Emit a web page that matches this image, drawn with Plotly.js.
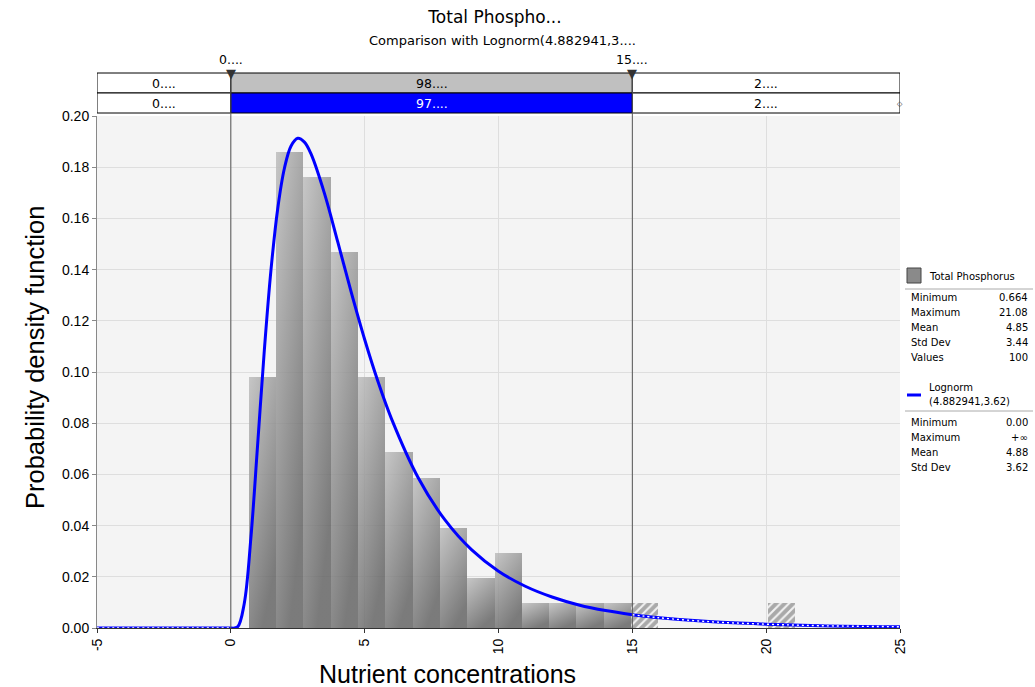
<!DOCTYPE html>
<html>
<head>
<meta charset="utf-8">
<script src="https://cdn.plot.ly/plotly-3.0.1.min.js"></script>
<style>html,body{margin:0;padding:0;background:#fff;}#chart{width:1035px;height:687px;}</style>
</head>
<body>
<div id="chart"></div>
<script>
// ---------------- data ----------------
const binCounts = [10, 19, 18, 15, 10, 7, 6, 4, 2, 3, 1, 1, 1, 1, 1, 0, 0, 0, 0, 1];
const sampleMin = 0.664;
const sampleMax = 21.08;
const sampleN = 100;

// fitted Lognorm(4.882941, 3.62) curve
const curveX = [-5, -2.5, 0, 0.25, 0.5, 0.75, 1, 1.25, 1.5, 1.75, 2, 2.25, 2.5, 2.75, 3, 3.5, 4, 4.5, 5, 5.5, 6, 7, 8, 9, 10, 11, 12, 13, 14, 15, 16, 18, 20, 22, 25];
const curveY = [0, 0, 0, 0.0004, 0.0095, 0.0353, 0.0714, 0.1083, 0.1399, 0.1637, 0.1795, 0.1883, 0.1913, 0.1898, 0.1851, 0.1697, 0.1506, 0.1311, 0.1127, 0.0962, 0.0818, 0.0587, 0.0422, 0.0305, 0.0222, 0.0163, 0.0121, 0.0090, 0.0068, 0.0052, 0.0040, 0.0024, 0.0015, 0.0009, 0.0005];

const windowLo = 0, windowHi = 15;
const markerLabels = ['0....', '15....'];
const row1Labels = ['0....', '98....', '2....'];
const row2Labels = ['0....', '97....', '2....'];

const titleText = 'Total Phospho...';
const subtitleText = 'Comparison with Lognorm(4.882941,3....';
const xTitle = 'Nutrient concentrations';
const yTitle = 'Probability density function';

const series1Name = 'Total Phosphorus';
const stats1Labels = ['Minimum', 'Maximum', 'Mean', 'Std Dev', 'Values'];
const stats1Values = ['0.664', '21.08', '4.85', '3.44', '100'];
const series2Name = ['Lognorm', '(4.882941,3.62)'];
const stats2Labels = ['Minimum', 'Maximum', 'Mean', 'Std Dev'];
const stats2Values = ['0.00', '+∞', '4.88', '3.62'];

// ---------------- derived ----------------
const binWidth = (sampleMax - sampleMin) / binCounts.length;
const solidX = [], solidY = [], hatchX = [], hatchY = [];
binCounts.forEach((c, i) => {
  const left = sampleMin + i * binWidth;
  const centre = left + binWidth / 2;
  const dens = c / (sampleN * binWidth);
  if (centre <= windowHi && centre >= windowLo) { solidX.push(left); solidY.push(dens); }
  else { hatchX.push(left); hatchY.push(dens); }
});

const inX = [], inY = [], leftX = [], leftY = [], rightX = [], rightY = [];
curveX.forEach((x, i) => {
  if (x >= windowLo && x <= windowHi) { inX.push(x); inY.push(curveY[i]); }
  if (x <= windowLo) { leftX.push(x); leftY.push(curveY[i]); }
  if (x >= windowHi) { rightX.push(x); rightY.push(curveY[i]); }
});

// ---------------- layout helpers ----------------
const L = 97, R = 900, T = 116, B = 628;
const PX = p => (p - L) / (R - L);
const PY = p => (B - p) / (B - T);
const FONT = 'Liberation Sans, Arial, sans-serif';
const SFONT = 'DejaVu Sans, Verdana, sans-serif';

const traces = [
  {type: 'bar', x: solidX, y: solidY, width: binWidth, offset: 0,
   marker: {color: '#8f8f8f', opacity: 0.9, line: {width: 0}}, hoverinfo: 'skip', showlegend: false},
  {type: 'bar', x: hatchX, y: hatchY, width: binWidth, offset: 0,
   marker: {color: '#a9a9a9', line: {width: 0}, pattern: {shape: '/', fgcolor: '#f2f2f2', bgcolor: '#a9a9a9', size: 6, solidity: 0.35}},
   hoverinfo: 'skip', showlegend: false},
  {type: 'scatter', mode: 'lines', x: inX, y: inY, line: {color: '#0000ff', width: 3, shape: 'spline'}, hoverinfo: 'skip', showlegend: false},
  {type: 'scatter', mode: 'lines', x: leftX, y: leftY, line: {color: '#0000ff', width: 3, shape: 'spline'}, hoverinfo: 'skip', showlegend: false},
  {type: 'scatter', mode: 'lines', x: rightX, y: rightY, line: {color: '#0000ff', width: 3, shape: 'spline'}, hoverinfo: 'skip', showlegend: false},
  {type: 'scatter', mode: 'lines', x: leftX, y: leftY, line: {color: '#ffffff', width: 1.4, dash: '2px,3px', shape: 'spline'}, hoverinfo: 'skip', showlegend: false},
  {type: 'scatter', mode: 'lines', x: rightX, y: rightY, line: {color: '#ffffff', width: 1.4, dash: '2px,3px', shape: 'spline'}, hoverinfo: 'skip', showlegend: false}
];

const shapes = [];
const annotations = [];

// header rows
const cellEdges = [-5, windowLo, windowHi, 25];
const row1Fill = ['#ffffff', '#c0c0c0', '#ffffff'];
const row2Fill = ['#ffffff', '#0000ff', '#ffffff'];
const row2Font = ['#000000', '#ffffff', '#000000'];
for (let i = 0; i < 3; i++) {
  shapes.push({type: 'rect', xref: 'x', yref: 'paper', x0: cellEdges[i], x1: cellEdges[i + 1], y0: PY(93), y1: PY(73),
    fillcolor: row1Fill[i], line: {color: '#000', width: 1}, layer: 'above'});
  shapes.push({type: 'rect', xref: 'x', yref: 'paper', x0: cellEdges[i], x1: cellEdges[i + 1], y0: PY(113), y1: PY(93),
    fillcolor: row2Fill[i], line: {color: '#000', width: 1}, layer: 'above'});
  const cx = (cellEdges[i] + cellEdges[i + 1]) / 2;
  annotations.push({xref: 'x', yref: 'paper', x: cx, y: PY(83), text: row1Labels[i], showarrow: false,
    font: {family: SFONT, size: 12.5, color: '#000'}, xanchor: 'center', yanchor: 'middle'});
  annotations.push({xref: 'x', yref: 'paper', x: cx, y: PY(103), text: row2Labels[i], showarrow: false,
    font: {family: SFONT, size: 12.5, color: row2Font[i]}, xanchor: 'center', yanchor: 'middle'});
}
// small end marker on second row
annotations.push({xref: 'paper', yref: 'paper', x: 1, y: PY(103), text: '◇', showarrow: false,
  font: {size: 7, color: '#333'}, xanchor: 'center', yanchor: 'middle'});
// window markers
[windowLo, windowHi].forEach((v, i) => {
  shapes.push({type: 'line', xref: 'x', yref: 'paper', x0: v, x1: v, y0: 0, y1: PY(73), line: {color: '#555', width: 1}, layer: 'above'});
  annotations.push({xref: 'x', yref: 'paper', x: v, y: PY(73), text: '▼', showarrow: false,
    font: {family: 'DejaVu Sans', size: 13, color: '#333'}, xanchor: 'center', yanchor: 'middle'});
  annotations.push({xref: 'x', yref: 'paper', x: v, y: PY(59), text: markerLabels[i], showarrow: false,
    font: {family: SFONT, size: 12.5, color: '#000'}, xanchor: 'center', yanchor: 'middle'});
});
// subtitle
annotations.push({xref: 'paper', yref: 'paper', x: PX(502), y: PY(40), text: subtitleText, showarrow: false,
  font: {family: SFONT, size: 13, color: '#000'}, xanchor: 'center', yanchor: 'middle'});
// axis titles
annotations.push({xref: 'paper', yref: 'paper', x: PX(447), y: PY(674), text: xTitle, showarrow: false,
  font: {family: FONT, size: 25, color: '#000'}, xanchor: 'center', yanchor: 'middle'});
annotations.push({xref: 'paper', yref: 'paper', x: PX(35), y: PY(358), text: yTitle, showarrow: false, textangle: -90,
  font: {family: FONT, size: 25.5, color: '#000'}, xanchor: 'center', yanchor: 'middle'});

// side legend
shapes.push({type: 'rect', xref: 'paper', yref: 'paper', x0: PX(907), x1: PX(921), y0: PY(283), y1: PY(268),
  fillcolor: '#8a8a8a', line: {color: '#444', width: 1}});
annotations.push({xref: 'paper', yref: 'paper', x: PX(927), y: PY(276), text: series1Name, showarrow: false,
  font: {family: SFONT, size: 10, color: '#000'}, xanchor: 'left', yanchor: 'middle'});
shapes.push({type: 'line', xref: 'paper', yref: 'paper', x0: PX(905), x1: PX(1033), y0: PY(289), y1: PY(289), line: {color: '#aaa', width: 1}});
stats1Labels.forEach((s, i) => {
  const y = PY(297 + i * 15);
  annotations.push({xref: 'paper', yref: 'paper', x: PX(909), y, text: s, showarrow: false,
    font: {family: SFONT, size: 10, color: '#000'}, xanchor: 'left', yanchor: 'middle'});
  annotations.push({xref: 'paper', yref: 'paper', x: PX(1030), y, text: stats1Values[i], showarrow: false,
    font: {family: SFONT, size: 10, color: '#000'}, xanchor: 'right', yanchor: 'middle'});
});
shapes.push({type: 'line', xref: 'paper', yref: 'paper', x0: PX(907), x1: PX(921), y0: PY(395), y1: PY(395), line: {color: '#0000ff', width: 3}});
annotations.push({xref: 'paper', yref: 'paper', x: PX(927), y: PY(387), text: series2Name[0], showarrow: false,
  font: {family: SFONT, size: 10, color: '#000'}, xanchor: 'left', yanchor: 'middle'});
annotations.push({xref: 'paper', yref: 'paper', x: PX(927), y: PY(401), text: series2Name[1], showarrow: false,
  font: {family: SFONT, size: 10, color: '#000'}, xanchor: 'left', yanchor: 'middle'});
shapes.push({type: 'line', xref: 'paper', yref: 'paper', x0: PX(905), x1: PX(1033), y0: PY(411), y1: PY(411), line: {color: '#aaa', width: 1}});
stats2Labels.forEach((s, i) => {
  const y = PY(422 + i * 15.3);
  annotations.push({xref: 'paper', yref: 'paper', x: PX(909), y, text: s, showarrow: false,
    font: {family: SFONT, size: 10, color: '#000'}, xanchor: 'left', yanchor: 'middle'});
  annotations.push({xref: 'paper', yref: 'paper', x: PX(1030), y, text: stats2Values[i], showarrow: false,
    font: {family: SFONT, size: 10, color: '#000'}, xanchor: 'right', yanchor: 'middle'});
});

const layout = {
  width: 1035, height: 687,
  margin: {l: L, r: 1035 - R, t: T, b: 687 - B, pad: 0},
  paper_bgcolor: '#ffffff', plot_bgcolor: '#f4f4f4',
  barmode: 'overlay', bargap: 0,
  title: {text: titleText, x: PX(495), xref: 'paper', y: 1 - 17 / 687, yanchor: 'middle', font: {family: SFONT, size: 17, color: '#000'}},
  xaxis: {range: [-5, 25], tickvals: [-5, 0, 5, 10, 15, 20, 25], ticktext: ['-5', '0', '5', '10', '15', '20', '25'],
    tickangle: -90, tickfont: {family: FONT, size: 14, color: '#000'}, showgrid: true, gridcolor: '#dedede', gridwidth: 1,
    zeroline: false, showline: true, linecolor: '#333', linewidth: 1, ticks: 'outside', ticklen: 4, tickcolor: '#333'},
  yaxis: {range: [0, 0.2], dtick: 0.02, tickformat: '.2f', tickfont: {family: FONT, size: 14, color: '#000'},
    showgrid: true, gridcolor: '#dedede', gridwidth: 1, zeroline: false, showline: true, linecolor: '#888', linewidth: 1,
    ticks: 'outside', ticklen: 4, tickcolor: '#888'},
  shapes, annotations, showlegend: false
};

function applyGradient() {
  const gd = document.getElementById('chart');
  const svg = gd.querySelector('svg.main-svg');
  if (!svg) return;
  let defs = svg.querySelector('defs');
  if (!defs) { defs = document.createElementNS('http://www.w3.org/2000/svg', 'defs'); svg.insertBefore(defs, svg.firstChild); }
  if (!defs.querySelector('#barGrad')) {
    const g = document.createElementNS('http://www.w3.org/2000/svg', 'linearGradient');
    g.setAttribute('id', 'barGrad');
    g.setAttribute('x1', '0'); g.setAttribute('y1', '0'); g.setAttribute('x2', '0.5'); g.setAttribute('y2', '1');
    [['0%', '#bdbdbd'], ['100%', '#626262']].forEach(([o, c]) => {
      const s = document.createElementNS('http://www.w3.org/2000/svg', 'stop');
      s.setAttribute('offset', o); s.setAttribute('stop-color', c); g.appendChild(s);
    });
    defs.appendChild(g);
  }
  const traceGroups = gd.querySelectorAll('g.barlayer g.trace');
  if (traceGroups.length) {
    traceGroups[0].querySelectorAll('path').forEach(p => { p.style.fill = 'url(#barGrad)'; p.style.fillOpacity = '0.92'; });
  }
}

Plotly.newPlot('chart', traces, layout, {staticPlot: true, displayModeBar: false}).then(applyGradient);
</script>
</body>
</html>
